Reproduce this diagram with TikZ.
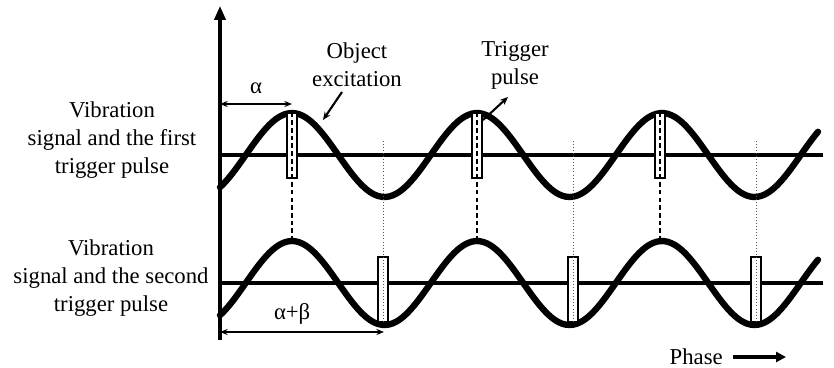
\documentclass[tikz,border=0pt]{standalone}
\usepackage{fontspec}
\setmainfont{Liberation Serif}
\usepackage{tikz}
\usetikzlibrary{arrows.meta, positioning, calc}
\definecolor{ink}{HTML}{000000}
\definecolor{guidegrey}{HTML}{555555}
\tikzset{
  wave/.style={line width=5.4pt, ink, line cap=round},
  baseline/.style={line width=2.6pt, ink},
  axisline/.style={line width=2.6pt, ink, -{Triangle[length=0.42cm, width=0.34cm]}},
  pulsebox/.style={rectangle, draw=ink, line width=0.9pt, fill=white,
    minimum width=0.3cm, minimum height=1.95cm, inner sep=0pt},
  dashline/.style={line width=1.1pt, ink, dash pattern=on 4pt off 2.6pt},
  guide/.style={line width=0.6pt, guidegrey, dotted},
  dimarrow/.style={{Stealth[length=2.3mm, width=1.8mm]}-{Stealth[length=2.3mm, width=1.8mm]}, line width=1pt, ink},
  callout/.style={-{Stealth[length=2.4mm, width=2mm]}, line width=1.8pt, ink},
  lbl/.style={font=\fontsize{19.4pt}{23.9pt}\selectfont, align=center, inner sep=0pt},
}

\begin{document}
\begin{tikzpicture}[x=0.03cm, y=-0.03cm]
\useasboundingbox (0,0) rectangle (834,368);

% signals
\draw[wave] plot[domain=220:818, samples=160, smooth] (\x, {155-42*cos((\x-292)*1.94595)});
\draw[wave] plot[domain=220:818, samples=160, smooth] (\x, {283-42*cos((\x-292)*1.94595)});
\draw[baseline] (220,155) -- (823,155);
\draw[baseline] (220,283) -- (823,283);

% axis
\coordinate (o) at (220,340);
\coordinate (top) at (220,6);
\draw[axisline] (o) -- (top);

% first trigger pulses at the peaks
\foreach \px [count=\i] in {292,477,660} {
  \node[pulsebox] (p\i) at (\px,145.5) {};
  \coordinate (b\i) at (\px,240);
  \draw[dashline] (p\i.north) -- (b\i);
}

% second trigger pulses at the troughs
\foreach \px [count=\i] in {383,573,756} {
  \node[pulsebox] (q\i) at (\px,289.5) {};
  \coordinate (t\i) at (\px,141);
  \draw[guide] (t\i) -- (q\i.south);
}

% labels
\node[lbl] (sig1) at (112,140) {Vibration\\signal and the first\\trigger pulse};
\node[lbl] (sig2) at (111,278) {Vibration\\signal and the second\\trigger pulse};

\coordinate (a0) at (220,104);
\coordinate (a1) at (292,104);
\draw[dimarrow] (a0) -- (a1) node[lbl, midway, above=8pt] (alpha) {α};

\coordinate (c0) at (220,332);
\coordinate (c1) at (384,332);
\draw[dimarrow] (c0) -- (c1) node[lbl, pos=0.44, above=6pt] (ab) {α+β};

\node[lbl] (exc) at (357,65) {Object\\excitation};
\coordinate (ex) at (323,120);
\draw[callout] (342,92) -- (ex);

\node[lbl] (trig) at (515,65) {Trigger\\pulse};
\coordinate (tr) at (483,120);
\draw[callout] (tr) -- (508,97);

\node[lbl, anchor=east] (phase) at (723,357) {Phase};
\coordinate (ph0) at (733,357);
\coordinate (ph1) at (786,357);
\draw[line width=3.6pt, -{Triangle[length=0.3cm, width=0.3cm]}] (ph0) -- (ph1);
\end{tikzpicture}
\end{document}
